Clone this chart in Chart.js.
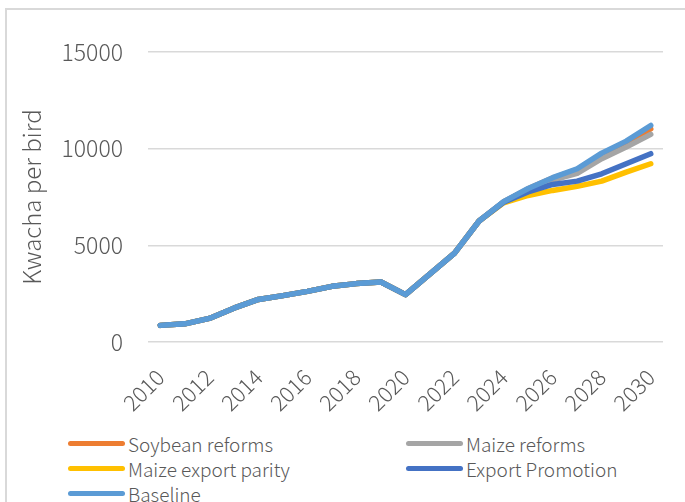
<!DOCTYPE html>
<html>
<head>
<meta charset="utf-8">
<script src="https://cdn.jsdelivr.net/npm/chart.js@4"></script>
<style>
  html, body { margin:0; padding:0; background:#fff; }
  body { width:685px; height:502px; position:relative; overflow:hidden; font-family:"Noto Sans CJK JP","Noto Sans",sans-serif; }
  #frame { position:absolute; left:5px; top:8px; width:700px; height:520px; border:2px solid #D9D9D9; box-sizing:border-box; }
  #wrap { position:absolute; left:0; top:0; width:685px; height:425px; }
  .leg { position:absolute; display:flex; align-items:center; font-size:19px; font-weight:300; color:#595959; white-space:nowrap; }
  .leg .sw { width:57px; height:5px; border-radius:3px; margin-right:3px; }
</style>
</head>
<body>
<div id="frame"></div>
<div id="wrap"><canvas id="c" width="685" height="425"></canvas></div>
<div id="legend"></div>
<script>
const years = ['2010','2011','2012','2013','2014','2015','2016','2017','2018','2019','2020','2021','2022','2023','2024','2025','2026','2027','2028','2029','2030'];
const soybeanReforms   = [860, 940, 1220, 1750, 2200, 2400, 2620, 2880, 3020, 3100, 2450, 3520, 4600, 6260, 7250, 7920, 8480, 8920, 9700, 10300, 11030];
const maizeReforms     = [860, 940, 1220, 1750, 2200, 2400, 2620, 2880, 3020, 3100, 2450, 3520, 4600, 6260, 7250, 7880, 8380, 8720, 9480, 10080, 10740];
const maizeExportParity= [860, 940, 1220, 1750, 2200, 2400, 2620, 2880, 3020, 3100, 2450, 3520, 4600, 6260, 7200, 7580, 7840, 8050, 8320, 8790, 9220];
const exportPromotion  = [860, 940, 1220, 1750, 2200, 2400, 2620, 2880, 3020, 3100, 2450, 3520, 4600, 6260, 7230, 7760, 8150, 8320, 8700, 9220, 9740];
const baseline         = [860, 940, 1220, 1750, 2200, 2400, 2620, 2880, 3020, 3100, 2450, 3520, 4600, 6260, 7260, 7940, 8500, 8960, 9770, 10390, 11200];
const yTicks = [0, 5000, 10000, 15000];

const series = [
  {label:'Soybean reforms', data:soybeanReforms, color:'#ED7D31', order:4},
  {label:'Maize reforms', data:maizeReforms, color:'#A5A5A5', order:3},
  {label:'Maize export parity', data:maizeExportParity, color:'#FFC000', order:2},
  {label:'Export Promotion', data:exportPromotion, color:'#4472C4', order:1},
  {label:'Baseline', data:baseline, color:'#5B9BD5', order:0}
];

const FONT = '"Noto Sans CJK JP","Noto Sans",sans-serif';

new Chart(document.getElementById('c'), {
  type:'line',
  data:{
    labels:years,
    datasets: series.map(s => ({
      label:s.label, data:s.data, borderColor:s.color, backgroundColor:s.color,
      borderWidth:5.5, pointRadius:0, tension:0, order:s.order,
      borderCapStyle:'round', borderJoinStyle:'round', fill:false
    }))
  },
  options:{
    responsive:false, animation:false,
    layout:{ padding:{ top:52, right:22, left:0, bottom:0 } },
    plugins:{ legend:{display:false}, tooltip:{enabled:false} },
    scales:{
      x:{
        offset:true,
        grid:{display:false},
        border:{display:false},
        ticks:{
          color:'#595959', font:{family:FONT, size:22, weight:300},
          minRotation:45, maxRotation:45, autoSkip:false, padding:14,
          callback:function(v,i){ return (i % 2 === 0) ? years[i] : ''; }
        },
        afterFit:function(s){ s.height = 425 - 342; }
      },
      y:{
        min:0, max:15000,
        afterBuildTicks:function(s){ s.ticks = yTicks.map(v => ({value:v})); },
        grid:{color:'#D9D9D9', lineWidth:1.5, drawTicks:false},
        border:{display:false},
        ticks:{ color:'#595959', font:{family:FONT, size:23, weight:300}, padding:25,
                callback:function(v){ return String(v); } },
        title:{ display:true, text:'Kwacha per bird', color:'#595959', font:{family:FONT, size:24, weight:300}, padding:{top:17, bottom:0} },
        afterFit:function(s){ s.width = 148; }
      }
    }
  }
});

// HTML legend (two columns, Excel style)
const legendPos = [[68,443],[406,443],[68,468],[406,468],[68,493]];
const lg = document.getElementById('legend');
series.forEach((s,i) => {
  const d = document.createElement('div');
  d.className = 'leg';
  d.style.left = legendPos[i][0] + 'px';
  d.style.top = (legendPos[i][1] - 13) + 'px';
  d.style.height = '26px';
  d.innerHTML = '<span class="sw" style="background:' + s.color + '"></span><span>' + s.label + '</span>';
  lg.appendChild(d);
});
</script>
</body>
</html>
